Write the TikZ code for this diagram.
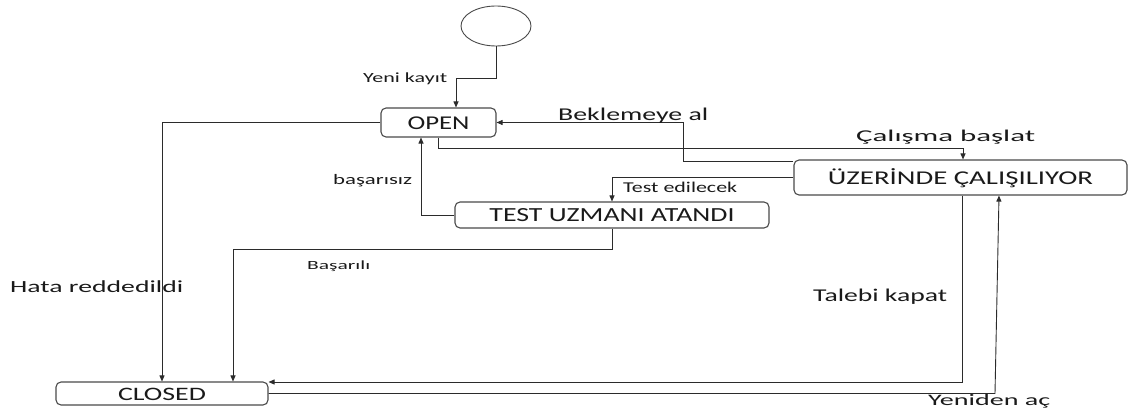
\documentclass[tikz,border=0pt]{standalone}
\usepackage{fontspec}
\usepackage{graphicx}
\setmainfont{Carlito}
\usetikzlibrary{arrows.meta,shapes.geometric}

% text of a given size, stretched to a given width
\newcommand{\wtxt}[3]{\resizebox{#1pt}{\height}{\fontsize{#2}{#2}\selectfont #3}}

\definecolor{linecol}{HTML}{2B2B2B}
\definecolor{boxcol}{HTML}{4A4A4A}
\definecolor{txtcol}{HTML}{1A1A1A}

\begin{document}
\begin{tikzpicture}[x=1pt,y=-1pt,
  statebox/.style={draw=boxcol, line width=1.1pt, rounded corners=5pt, inner sep=0pt,
    text height=13pt, text depth=0pt, text=txtcol, fill=white},
  lbl/.style={anchor=base west, inner sep=0pt, text=txtcol},
  arr/.style={draw=linecol, line width=0.9pt, -{Triangle[length=6pt,width=5pt]}}]
  \useasboundingbox (0,0) rectangle (1128,412);

  % start point
  \node[draw=boxcol, line width=0.9pt, ellipse, minimum width=70pt, minimum height=40pt, inner sep=0pt] (start) at (496,26) {};

  % states
  \node[statebox, minimum width=115pt, minimum height=29pt] (open) at (438.5,122.5) {\wtxt{62}{19.5}{OPEN}};
  \node[statebox, minimum width=333pt, minimum height=35pt] (uzer) at (960.5,177.5) {\wtxt{265}{19.5}{ÜZERİNDE ÇALIŞILIYOR}};
  \node[statebox, minimum width=314pt, minimum height=26pt] (test) at (612,215) {\wtxt{245}{20}{TEST UZMANI ATANDI}};
  \node[statebox, minimum width=212pt, minimum height=23pt] (closed) at (162,393.5) {\wtxt{88}{19}{CLOSED}};

  % transitions
  \draw[arr] (start.south) |- (456,78) -- (open.north -| 456,0);
  \draw[arr] (open.west) -| (closed.north);
  \draw[arr] (open.south) |- (963,148) -- (uzer.north -| 963,0);
  \draw[arr] (uzer.west |- 0,161) -| (open.east -| 683,0) -- (open.east);
  \draw[arr] (uzer.west) -| (test.north);
  \draw[arr] (test.west) -| (open.south -| 421,0);
  \draw[arr] (test.south) |- (233,249) -- (closed.north -| 233,0);
  \draw[arr] (uzer.south -| 962,0) |- (closed.east |- 0,382);
  \draw[arr] (closed.east) -- (995,393.5) -- (uzer.south -| 999,0);

  % transition labels
  \node[lbl] (lnew) at (363,82) {\wtxt{84}{14}{Yeni kayıt}};
  \node[lbl] (lwait) at (558,121) {\wtxt{150}{18}{Beklemeye al}};
  \node[lbl] (lstart) at (856,142) {\wtxt{179}{16.5}{Çalışma başlat}};
  \node[lbl] (ltest) at (623,192) {\wtxt{114}{15}{Test edilecek}};
  \node[lbl] (lfail) at (333,184) {\wtxt{79}{14.5}{başarısız}};
  \node[lbl] (lok) at (307,269.5) {\wtxt{63}{12.5}{Başarılı}};
  \node[lbl] (lrej) at (10,292) {\wtxt{173}{17}{Hata reddedildi}};
  \node[lbl] (lclose) at (813,301) {\wtxt{134}{18}{Talebi kapat}};
  \node[lbl] (lreopen) at (928,405) {\wtxt{122}{16}{Yeniden aç}};
\end{tikzpicture}
\end{document}
